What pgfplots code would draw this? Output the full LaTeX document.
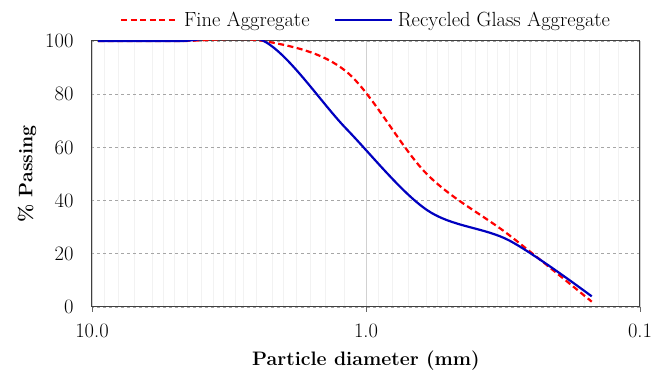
\documentclass[border=0pt]{standalone}
\usepackage{fontspec}
\usepackage{pgfplots}
\pgfplotsset{compat=1.18}
\definecolor{rgblue}{RGB}{0,0,192}
\definecolor{fared}{RGB}{255,0,0}
\begin{document}
\begin{tikzpicture}
\begin{axis}[
  scale only axis,
  width=548pt, height=266pt,
  xmode=log, x dir=reverse,
  xmin=0.1, xmax=10, ymin=0, ymax=100,
  xtick={10,1,0.1}, xticklabels={10.0,1.0,0.1},
  ytick={0,20,40,60,80,100},
  /pgf/number format/assume math mode=true,
  minor xtick={0.12,0.14,0.16,0.18,0.2,0.22,0.25,0.28,0.3,0.33,0.36,0.4,0.45,0.5,0.55,0.6,0.7,0.8,0.9,1.2,1.4,1.6,1.8,2,2.2,2.5,2.8,3,3.3,3.6,4,4.5,5,5.5,6,7,8,9},
  xmajorgrids, ymajorgrids, xminorgrids,
  major x grid style={draw=black!18, line width=0.8pt},
  minor x grid style={draw=black!5, line width=1pt},
  major y grid style={draw=black!35, dashed, line width=0.8pt},
  axis line style={draw=black!75, line width=1pt},
  tick style={draw=black!60, line width=0.8pt},
  xtick pos=bottom, ytick pos=left,
  tick align=outside,
  major tick length=5pt, minor tick length=0pt,
  y tick style={draw=none},
  tick label style={font=\fontsize{20.5}{23}\selectfont},
  xticklabel style={yshift=-8pt},
  yticklabel style={xshift=-10pt},
  xlabel={\textbf{Particle diameter (mm)}},
  ylabel={\textbf{\% Passing}},
  label style={font=\fontsize{19.5}{22}\selectfont},
  xlabel style={yshift=-7pt},
  ylabel style={yshift=2pt},
  legend columns=2,
  legend style={at={(0.5,1.08)}, anchor=center, draw=none, fill=none,
    font=\fontsize{20.5}{23}\selectfont,
    /tikz/every odd column/.append style={column sep=3pt},
    /tikz/every even column/.append style={column sep=22pt}},
  legend image code/.code={\draw[#1] (0pt,0pt) -- (57pt,0pt);},
]
\addplot[fared, line width=2.2pt, dash pattern=on 6pt off 3.5pt, smooth, tension=0.55] coordinates {
(9.5,100) (4.75,100) (2.36,100) (1.18,88.5) (0.6,50) (0.3,27) (0.15,2)
};
\addlegendentry{Fine Aggregate}
\addplot[rgblue, line width=2.2pt, smooth, tension=0.55] coordinates {
(9.5,100) (4.75,100) (2.36,100) (1.18,67) (0.6,36.5) (0.3,25) (0.15,4)
};
\addlegendentry{Recycled Glass Aggregate}
\end{axis}
\pgfresetboundingbox
\path (-92pt,-65pt) rectangle (562pt,307pt);
\end{tikzpicture}
\end{document}
